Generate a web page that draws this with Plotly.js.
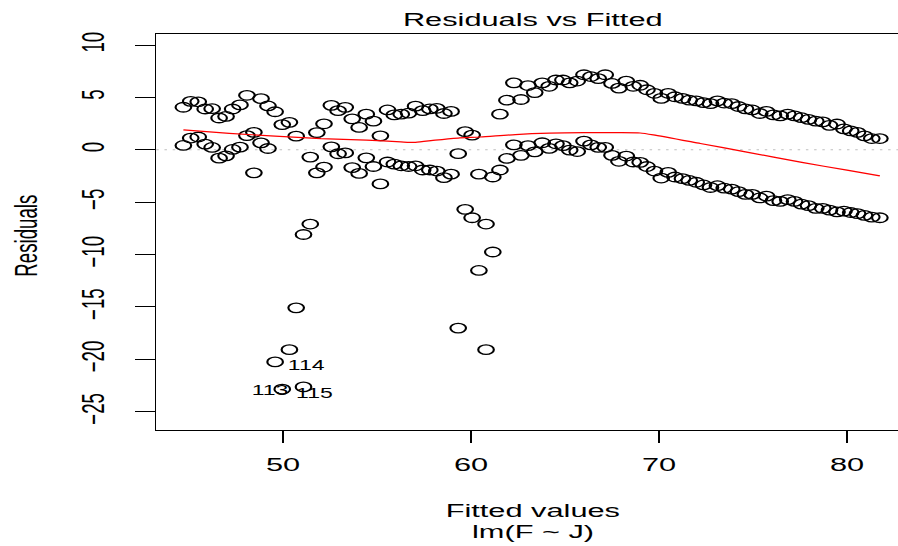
<!DOCTYPE html>
<html><head><meta charset="utf-8">
<script src="https://cdn.plot.ly/plotly-3.0.1.min.js"></script>
<style>
html,body{margin:0;padding:0;background:#fff;overflow:hidden;}
#wrap{width:898px;height:546px;overflow:hidden;position:relative;background:#fff;}
#plot{width:560px;height:546px;transform:scaleX(1.644689);transform-origin:0 0;}
</style></head><body>
<div id="wrap"><div id="plot"></div></div>
<script>
// Fitted values (x) shared by the two bands of residuals
const fittedVals = [44.70,45.09,45.49,45.86,46.23,46.60,46.97,47.32,47.71,48.08,
48.45,48.83,49.20,49.58,49.96,50.34,50.70,51.09,51.45,51.80,
52.18,52.57,52.93,53.31,53.68,54.05,54.43,54.81,55.18,55.56,
55.92,56.29,56.68,57.05,57.43,57.81,58.18,58.56,58.94,59.32,
59.69,60.06,60.42,60.80,61.16,61.54,61.91,62.28,62.66,63.03,
63.39,63.79,64.16,64.52,64.89,65.25,65.65,66.01,66.38,66.77,
67.14,67.50,67.87,68.26,68.63,69.00,69.36,69.76,70.12,70.49,
70.85,71.25,71.61,71.98,72.37,72.74,73.11,73.47,73.87,74.23,
74.60,74.96,75.36,75.72,76.09,76.45,76.85,77.21,77.58,77.95,
78.34,78.71,79.07,79.47,79.84,80.20,80.56,80.93,81.32,81.75];
const residA = [4.06,4.62,4.58,3.89,3.92,3.03,3.18,3.89,4.28,5.20,
1.66,4.88,4.18,3.63,2.40,2.62,1.30,-8.09,-7.09,1.64,
2.48,4.24,3.73,4.05,2.95,2.13,3.40,2.73,1.33,3.80,
3.33,3.40,3.50,4.16,3.73,3.90,3.96,3.46,3.66,-0.37,
1.73,1.40,-2.33,-7.09,-2.60,3.40,4.73,6.39,4.80,6.13,
5.46,6.39,6.06,6.66,6.66,6.39,6.56,7.16,6.99,6.79,
7.16,6.33,5.89,6.56,6.06,6.16,5.73,5.39,4.90,5.39,
5.06,4.90,4.73,4.66,4.50,4.40,4.66,4.46,4.40,4.13,
3.90,3.80,3.46,3.66,3.33,3.23,3.40,3.23,3.06,2.90,
2.73,2.66,2.33,2.46,1.99,1.80,1.66,1.33,1.07,1.07];
const residB = [0.41,1.12,1.22,0.54,0.22,-0.80,-0.58,0.03,0.25,1.35,
-2.20,0.66,0.12,-20.25,-22.85,-19.08,-15.09,-22.64,-0.70,-2.20,
-1.65,0.28,-0.38,-0.30,-1.70,-2.26,-0.77,-1.60,-3.26,-1.17,
-1.37,-1.53,-1.60,-1.53,-1.93,-1.93,-2.03,-2.66,-2.33,-17.02,
-5.69,-6.49,-11.52,-19.08,-9.76,-1.93,-0.83,0.47,-0.53,0.40,
-0.20,0.67,0.13,0.57,0.40,-0.03,-0.17,0.83,0.47,0.23,
0.23,-0.53,-1.10,-0.60,-1.17,-1.20,-1.60,-2.03,-2.70,-2.16,
-2.60,-2.76,-2.93,-3.10,-3.36,-3.60,-3.43,-3.66,-3.76,-4.00,
-4.26,-4.26,-4.60,-4.43,-4.86,-4.93,-4.76,-4.93,-5.19,-5.33,
-5.59,-5.59,-5.76,-5.93,-5.86,-5.99,-6.09,-6.26,-6.43,-6.49];
// Smoother (red line)
const smoothX = [44.70,47.14,49.57,52.01,54.44,56.27,57.05,58.10,59.32,60.50,62.36,64.19,66.01,67.84,69.00,69.70,72.20,74.60,77.60,80.00,81.75];
const smoothY = [1.90,1.57,1.30,1.07,0.92,0.75,0.70,0.92,1.12,1.22,1.45,1.58,1.63,1.63,1.60,1.42,0.60,-0.20,-1.20,-1.95,-2.49];
// Labelled extreme points
const idLabels = ["114","115","113"];
const idX = [49.58,49.96,51.09];
const idY = [-20.25,-22.85,-22.64];
const idSide = ["right","right","left"];
const xTicks = [50,60,70,80];
const yTicks = [-25,-20,-15,-10,-5,0,5,10];

const FONT = "Liberation Sans, Arial, Helvetica, sans-serif";
const FS = 18.7;

const ptsX = fittedVals.concat(fittedVals);
const ptsY = residA.concat(residB);

const traces = [
  {x: ptsX, y: ptsY, type:'scatter', mode:'markers', hoverinfo:'skip',
   marker:{symbol:'circle-open', size:9.5, color:'#000', line:{width:1.3, color:'#000'}}},
  {x: smoothX, y: smoothY, type:'scatter', mode:'lines', hoverinfo:'skip',
   line:{color:'#ff0000', width:1.2, shape:'spline', smoothing:0.6}}
];

const L = 95, T = 34, B = 116, W = 560, H = 546, R = 8;
const plotH = H - T - B;
function py(p){ return (H - B - p) / plotH; }
function px(p){ return (p / 1.644689 - L) / (W - L - R); }

const annotations = [
  {text:'Residuals vs Fitted', xref:'paper', yref:'paper', x:0.5, y:py(19.5), xanchor:'center', yanchor:'middle', showarrow:false, font:{family:FONT, size:FS, color:'#000'}},
  {text:'Fitted values', xref:'paper', yref:'paper', x:0.5, y:py(510), xanchor:'center', yanchor:'middle', showarrow:false, font:{family:FONT, size:FS, color:'#000'}},
  {text:'lm(F ~ J)', xref:'paper', yref:'paper', x:0.5, y:py(531.5), xanchor:'center', yanchor:'middle', showarrow:false, font:{family:FONT, size:FS, color:'#000'}},
  {text:'Residuals', xref:'paper', yref:'paper', x:px(25.8), y:py(236), xanchor:'center', yanchor:'middle', textangle:-90, showarrow:false, font:{family:FONT, size:FS, color:'#000'}}
];
for (let i = 0; i < idLabels.length; i++) {
  const right = idSide[i] === 'right';
  annotations.push({text:idLabels[i], xref:'x', yref:'y', x:idX[i], y:idY[i],
    xanchor: right ? 'left' : 'right', yanchor:'middle', xshift: right ? 6.2 : -6.2, yshift:-3.5,
    showarrow:false, font:{family:FONT, size:14, color:'#000'}});
}

const layout = {
  width: W, height: H,
  margin:{l:L, r:R, t:T, b:B, pad:0},
  paper_bgcolor:'#fff', plot_bgcolor:'#fff',
  showlegend:false,
  font:{family:FONT, size:FS, color:'#000'},
  xaxis:{range:[43.256, 83.24], tickmode:'array', tickvals:xTicks, ticktext:xTicks.map(String),
    ticks:'outside', ticklen:12, tickwidth:1, tickcolor:'#000', ticklabelstandoff:6,
    showline:true, linecolor:'#000', linewidth:1, mirror:true,
    showgrid:false, zeroline:false, tickfont:{family:FONT, size:FS, color:'#000'}},
  yaxis:{range:[-26.75, 11.05], tickmode:'array', tickvals:yTicks, ticktext:yTicks.map(v => v < 0 ? '\u2212' + Math.abs(v) : String(v)),
    tickangle:-90, ticks:'outside', ticklen:12, tickwidth:1, tickcolor:'#000', ticklabelstandoff:11,
    showline:true, linecolor:'#000', linewidth:1, mirror:true,
    showgrid:false, zeroline:false, tickfont:{family:FONT, size:FS, color:'#000'}},
  shapes:[
    {type:'line', xref:'paper', yref:'y', x0:0, x1:1, y0:0, y1:0, layer:'below',
     line:{color:'#bebebe', width:1, dash:'1.5px,3.5px'}}
  ],
  annotations: annotations
};

Plotly.newPlot('plot', traces, layout, {staticPlot:true, displayModeBar:false});
</script>
</body></html>
